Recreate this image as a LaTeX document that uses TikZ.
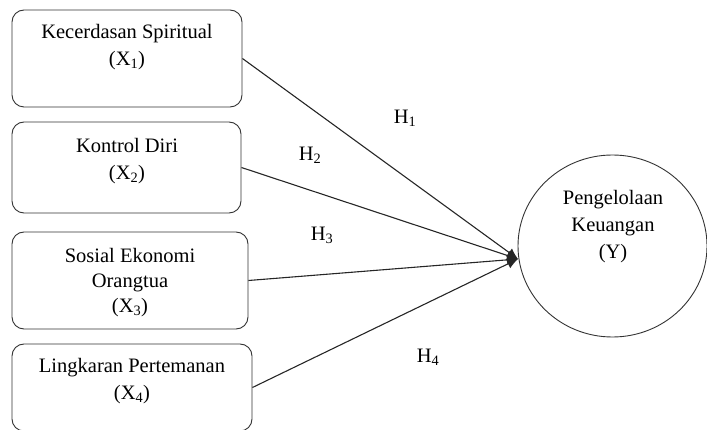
\documentclass[tikz,border=0pt]{standalone}
\usepackage{fontspec}
\setmainfont{Liberation Serif}
\usetikzlibrary{arrows.meta, shapes.geometric}

\begin{document}
\begin{tikzpicture}[x=1pt, y=-1pt, font=\fontsize{20.5}{27}\selectfont,
  box/.style={draw=black!80, line width=0.9pt, rounded corners=12pt, inner sep=0pt},
  txt/.style={anchor=north, align=center, inner sep=0pt},
  hyp/.style={inner sep=0pt},
  path/.style={draw=black!85, line width=1.1pt, -{Latex[length=11pt, width=10pt]}}]

\useasboundingbox (0,0) rectangle (707,430);

% independent variables
\node[box, minimum width=230, minimum height=97] (x1) at (127,58.5) {};
\node[box, minimum width=229, minimum height=91] (x2) at (126.5,167.5) {};
\node[box, minimum width=236, minimum height=97] (x3) at (130,280.5) {};
\node[box, minimum width=240, minimum height=87] (x4) at (132,387.5) {};

\node[txt] (t1) at (127,24) {Kecerdasan Spiritual\\(X\textsubscript{1})};
\node[txt] (t2) at (127,138) {Kontrol Diri\\(X\textsubscript{2})};
\node[txt, font=\fontsize{20.5}{25}\selectfont] (t3) at (130,248) {Sosial Ekonomi\\Orangtua\\(X\textsubscript{3})};
\node[txt] (t4) at (132,358) {Lingkaran Pertemanan\\(X\textsubscript{4})};

% dependent variable
\node[draw=black!80, line width=0.9pt, ellipse, inner sep=0pt,
  minimum width=189, minimum height=182] (y) at (612.5,246) {};
\node[txt] (ty) at (613,190) {Pengelolaan\\Keuangan\\(Y)};

\coordinate (tip) at (518,259);

% hypotheses
\draw[path] (x1.east) -- (tip);
\draw[path] (x2.east) -- (tip);
\draw[path] (x3.east) -- (tip);
\draw[path] (x4.east) -- (tip);

\node[hyp] (h1) at (405,118) {H\textsubscript{1}};
\node[hyp] (h2) at (310,155) {H\textsubscript{2}};
\node[hyp] (h3) at (322,235) {H\textsubscript{3}};
\node[hyp] (h4) at (428,357) {H\textsubscript{4}};

\end{tikzpicture}
\end{document}
